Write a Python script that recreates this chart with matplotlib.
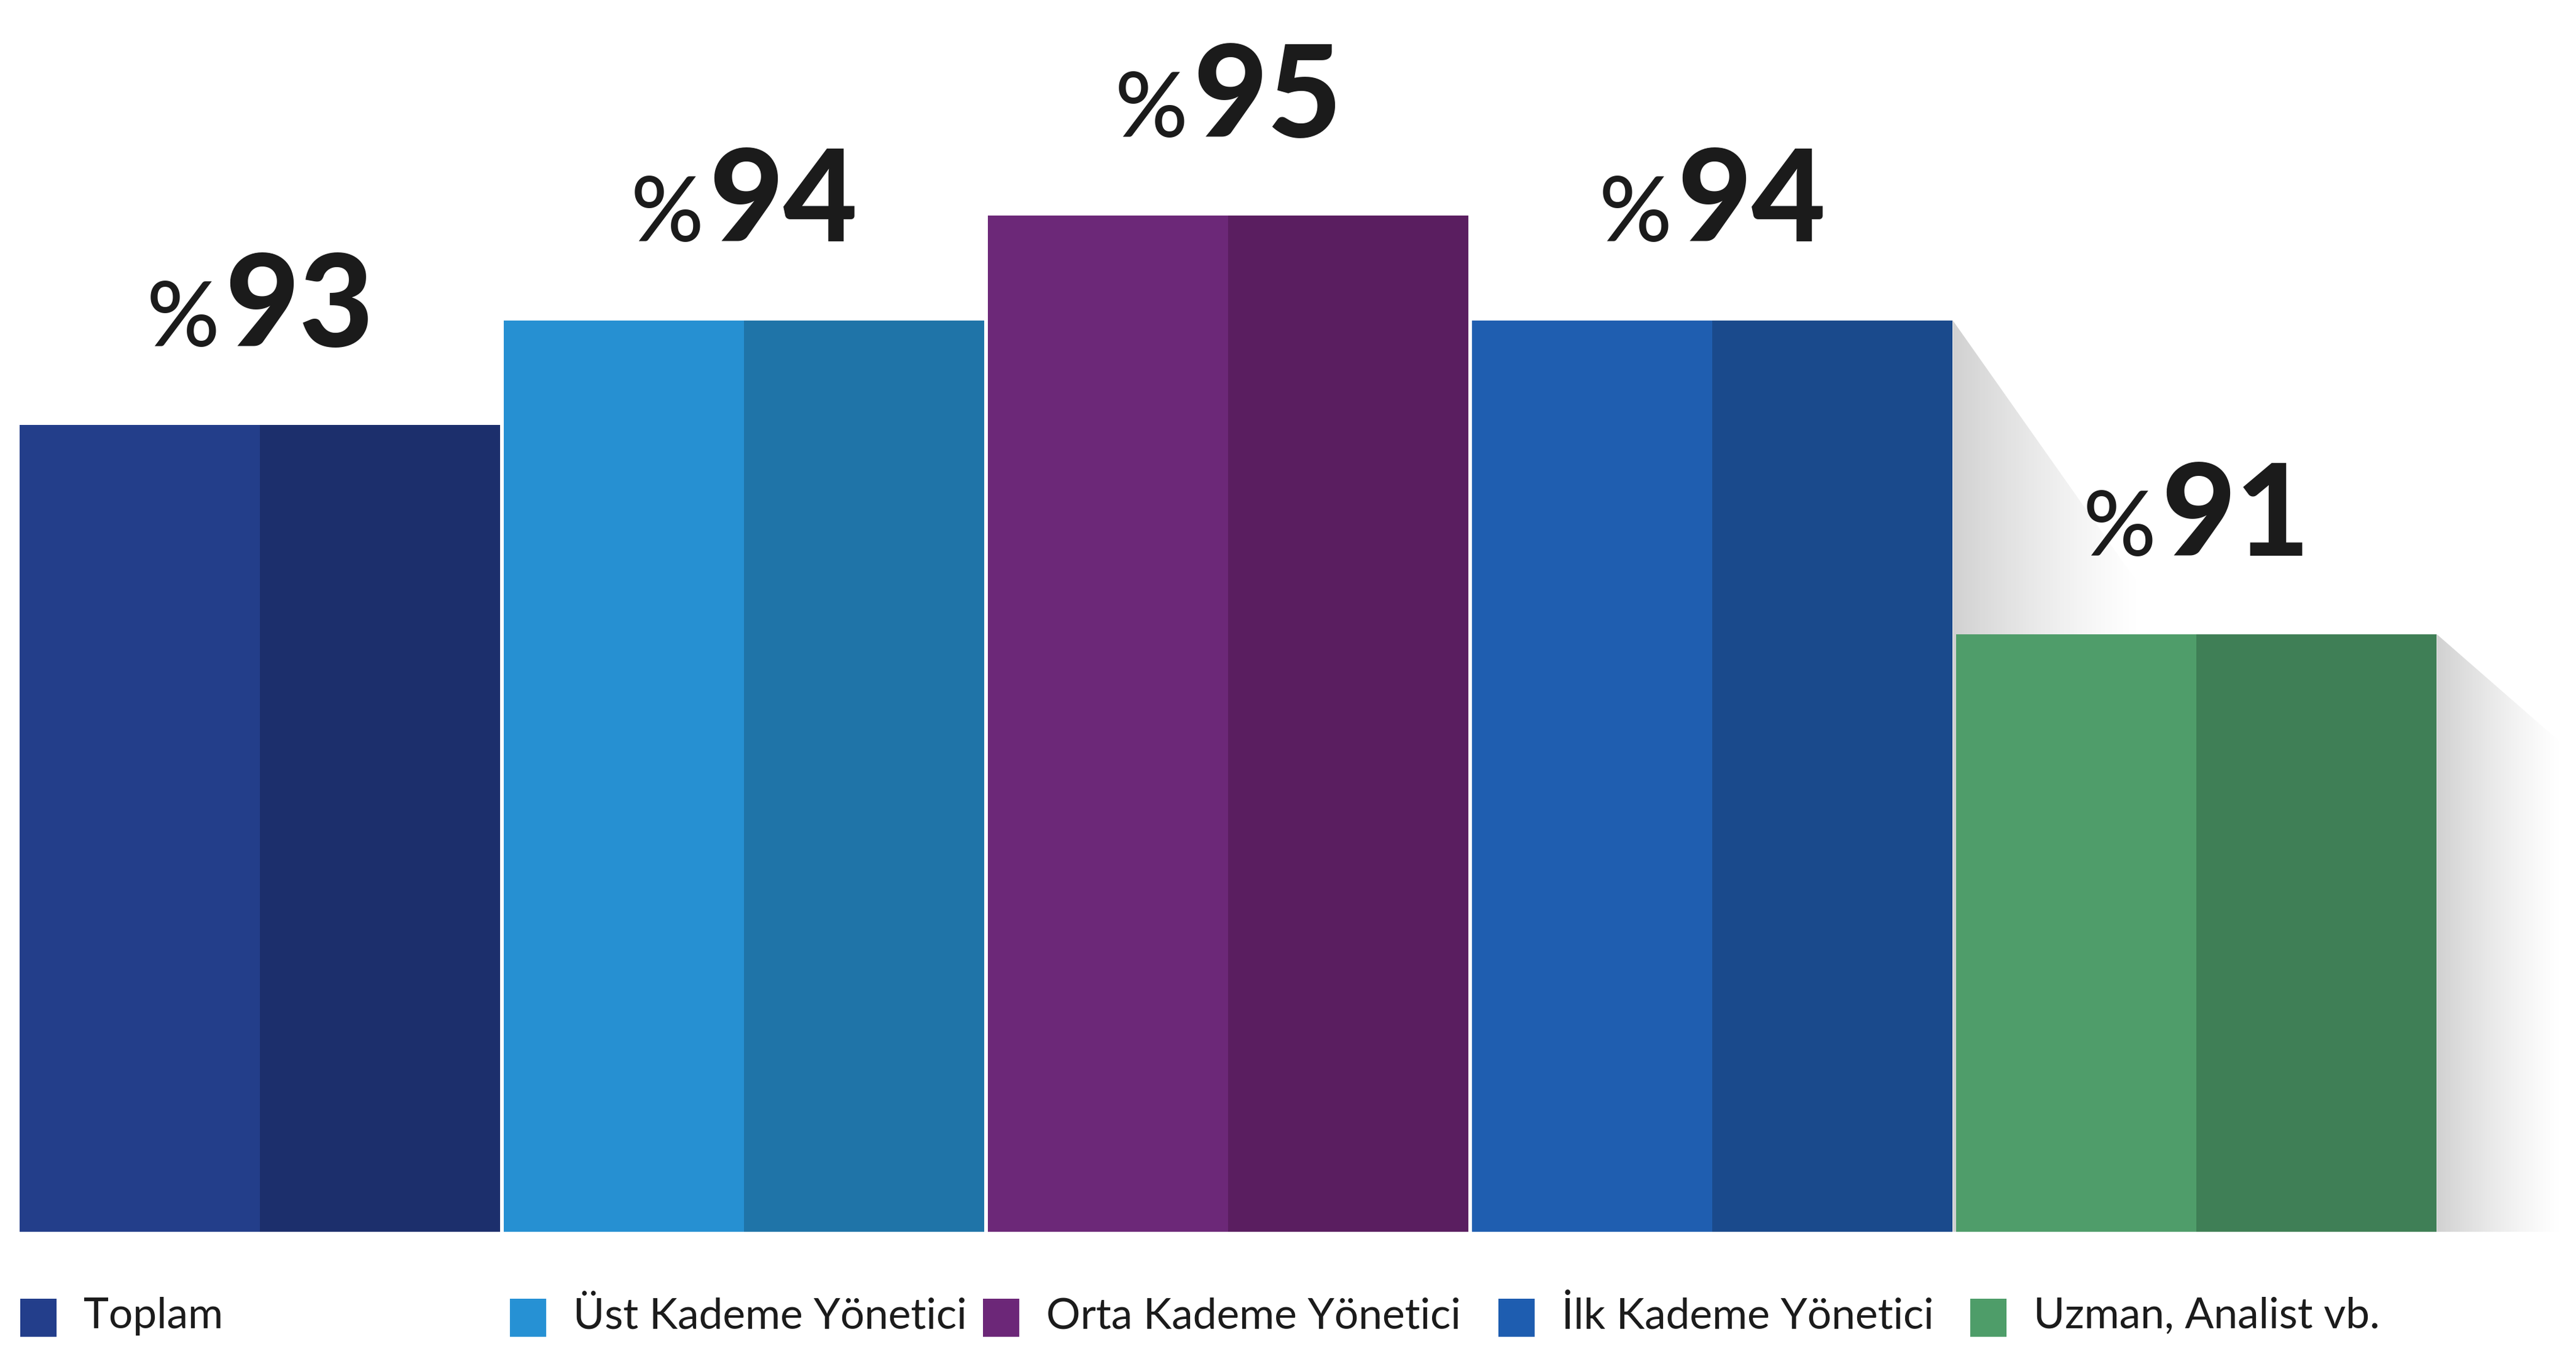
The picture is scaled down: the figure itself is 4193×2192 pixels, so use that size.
import numpy as np
import matplotlib.pyplot as plt
from matplotlib.patches import Rectangle, Polygon
from matplotlib.offsetbox import TextArea, HPacker, AnnotationBbox

categories = ['Toplam', 'Üst Kademe Yönetici', 'Orta Kademe Yönetici',
              'İlk Kademe Yönetici', 'Uzman, Analist vb.']
values = [93, 94, 95, 94, 91]

# each bar is split in a lighter left half and a darker right half
colors_light = ['#233e8a', '#2690d2', '#6c2878', '#1f5eb0', '#4f9d6a']
colors_dark = ['#1c2f6c', '#1f74a8', '#5a1e60', '#1a4a8c', '#3f7f56']
legend_colors = ['#233e8b', '#2691d4', '#6c2778', '#1e5db0', '#4e9d69']

# legend item left edges, figure fraction
legend_x = [33 / 4193, 830 / 4193, 1600 / 4193, 2439 / 4193, 3207 / 4193]

# soft drop shadows to the right of some bars: (bar index, width, drop)
shadows = [(3, 0.39, 2.56), (4, 0.26, 1.05)]

fig = plt.figure(figsize=(41.93, 21.92), dpi=100)
ax = fig.add_axes([0, 186 / 2192, 1, 2006 / 2192])
ax.axis('off')

y_lo, y_hi = 85.29, 97.06
x = np.arange(len(values))
w = 0.993

ax.bar(x - w / 4, values, width=w / 2, color=colors_light, zorder=3, linewidth=0)
ax.bar(x + w / 4, values, width=w / 2, color=colors_dark, zorder=3, linewidth=0)

# gradient shadows clipped to a slanted polygon
for i, dx, drop in shadows:
    right = x[i] + w / 2
    top = values[i]
    grad = np.zeros((1, 256, 4))
    grad[..., :3] = 0.55
    grad[0, :, 3] = 0.40 * (1 - np.linspace(0, 1, 256)) ** 1.3
    poly = Polygon([(right, top), (right + dx, top - drop),
                    (right + dx, y_lo), (right, y_lo)],
                   closed=True, transform=ax.transData, facecolor='none',
                   edgecolor='none')
    ax.add_patch(poly)
    im = ax.imshow(grad, extent=[right, right + dx, y_lo, top], aspect='auto',
                   interpolation='bilinear', zorder=1)
    im.set_clip_path(poly)

# value labels: small "%" followed by the large number
for xi, v in zip(x, values):
    pct = TextArea('%', textprops=dict(fontsize=106, family='Lato',
                                       fontweight='medium', color='#1b1b1b'))
    num = TextArea(str(v), textprops=dict(fontsize=150, family='Lato',
                                          fontweight='black', color='#1b1b1b'))
    box = HPacker(children=[pct, num], align='baseline', pad=0, sep=6)
    ab = AnnotationBbox(box, (xi, v), xybox=(0, 67), xycoords='data',
                        boxcoords='offset points', box_alignment=(0.5, 0),
                        frameon=False, pad=0)
    ax.add_artist(ab)

# legend row below the bars
for lx, name, c in zip(legend_x, categories, legend_colors):
    fig.patches.append(Rectangle((lx, 15 / 2192), 59 / 4193, 62 / 2192,
                                 transform=fig.transFigure, facecolor=c,
                                 edgecolor='none'))
    fig.text(lx + 103 / 4193, 29 / 2192, name, fontsize=50, family='Lato',
             color='#1b1b1b', va='baseline', ha='left')

ax.set_xlim(-0.537, 4.784)
ax.set_ylim(y_lo, y_hi)

fig.savefig('out.png', dpi=100, facecolor='white')
